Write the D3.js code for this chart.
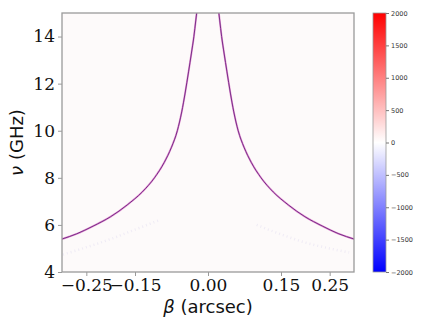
<!DOCTYPE html>
<html>
<head>
<meta charset="utf-8">
<script src="https://cdn.jsdelivr.net/npm/d3@7"></script>
<style>
  body { margin: 0; background: #fff; }
  svg { display: block; }
</style>
</head>
<body>
<svg id="chart" width="436" height="327"></svg>
<script>
'use strict';

// ridge of the map (beta in arcsec, nu in GHz)
const leftBeta = [-0.300, -0.270, -0.236, -0.200, -0.166, -0.135, -0.110, -0.090, -0.075, -0.063, -0.054, -0.047, -0.040, -0.034, -0.029, -0.025, -0.021];
const leftNu   = [5.40, 5.62, 5.95, 6.35, 6.85, 7.40, 8.00, 8.65, 9.30, 10.0, 10.8, 11.6, 12.5, 13.3, 14.0, 14.7, 15.4];
const rightBeta = [0.020, 0.024, 0.028, 0.033, 0.039, 0.046, 0.053, 0.062, 0.074, 0.089, 0.109, 0.134, 0.165, 0.199, 0.235, 0.269, 0.300];
const rightNu   = [15.4, 14.7, 14.0, 13.3, 12.5, 11.6, 10.8, 10.0, 9.30, 8.65, 8.00, 7.40, 6.85, 6.35, 5.95, 5.62, 5.40];

// faint speckle bands below the ridge
const faintLeftBeta = [-0.298, -0.25, -0.20, -0.15, -0.098];
const faintLeftNu   = [4.74, 5.05, 5.40, 5.80, 6.22];
const faintRightBeta = [0.10, 0.15, 0.20, 0.25, 0.29];
const faintRightNu   = [6.00, 5.60, 5.25, 5.00, 4.83];

const xTicks = [-0.25, -0.15, 0.00, 0.15, 0.25];
const yTicks = [4, 6, 8, 10, 12, 14];
const cbTicks = [-2000, -1500, -1000, -500, 0, 500, 1000, 1500, 2000];

const svg = d3.select('#chart');
const plotLeft = 62, plotTop = 13, plotRight = 354, plotBottom = 272;

const x = d3.scaleLinear().domain([-0.3, 0.3]).range([plotLeft, plotRight]);
const y = d3.scaleLinear().domain([4, 15]).range([plotBottom, plotTop]);

const defs = svg.append('defs');
defs.append('clipPath').attr('id', 'plotclip')
    .append('rect')
    .attr('x', plotLeft).attr('y', plotTop)
    .attr('width', plotRight - plotLeft).attr('height', plotBottom - plotTop);

// map background (values near zero -> almost white)
svg.append('rect')
    .attr('x', plotLeft).attr('y', plotTop)
    .attr('width', plotRight - plotLeft).attr('height', plotBottom - plotTop)
    .attr('fill', '#fdfafa');

const plot = svg.append('g').attr('clip-path', 'url(#plotclip)');

const line = d3.line()
    .x(function(d) { return x(d[0]); })
    .y(function(d) { return y(d[1]); })
    .curve(d3.curveMonotoneX);

function drawFaint(bs, ns) {
    const pts = d3.zip(bs, ns);
    plot.append('path')
        .attr('d', line(pts))
        .attr('fill', 'none')
        .attr('stroke', '#cfc9ea')
        .attr('stroke-width', 2.5)
        .attr('stroke-dasharray', '1,3')
        .attr('opacity', 0.3);
}
drawFaint(faintLeftBeta, faintLeftNu);
drawFaint(faintRightBeta, faintRightNu);

function drawRidge(bs, ns) {
    const pts = d3.zip(bs, ns);
    plot.append('path')
        .attr('d', line(pts))
        .attr('fill', 'none')
        .attr('stroke', '#d050b8')
        .attr('stroke-width', 1.9)
        .attr('opacity', 0.6);
    plot.append('path')
        .attr('d', line(pts))
        .attr('fill', 'none')
        .attr('stroke', '#6d2280')
        .attr('stroke-width', 0.9);
}
drawRidge(leftBeta, leftNu);
drawRidge(rightBeta, rightNu);

// axes
const fmtX = function(d) { return d3.format('.2f')(d).replace('-', '\u2212'); };

const xAxis = svg.append('g')
    .attr('transform', 'translate(0,' + plotBottom + ')')
    .call(d3.axisBottom(x).tickValues(xTicks).tickFormat(fmtX).tickSize(4).tickPadding(3));
const yAxis = svg.append('g')
    .attr('transform', 'translate(' + plotLeft + ',0)')
    .call(d3.axisLeft(y).tickValues(yTicks).tickSize(4).tickPadding(3));

[xAxis, yAxis].forEach(function(ax) {
    ax.select('.domain').remove();
    ax.selectAll('line').attr('stroke', '#9a9a9a').attr('stroke-width', 1);
    ax.selectAll('text')
        .attr('fill', '#111')
        .style('font-family', '"DejaVu Serif", serif')
        .style('font-size', '17px');
});

// spines
svg.append('rect')
    .attr('x', plotLeft).attr('y', plotTop)
    .attr('width', plotRight - plotLeft).attr('height', plotBottom - plotTop)
    .attr('fill', 'none')
    .attr('stroke', '#9a9a9a')
    .attr('stroke-width', 1.3);

// axis labels
const xl = svg.append('text')
    .attr('x', (plotLeft + plotRight) / 2)
    .attr('y', 313)
    .attr('text-anchor', 'middle')
    .style('font-family', '"DejaVu Sans", sans-serif')
    .style('font-size', '18px')
    .attr('fill', '#111');
xl.append('tspan').style('font-style', 'italic').text('\u03b2');
xl.append('tspan').text(' (arcsec)');

const yl = svg.append('text')
    .attr('transform', 'translate(23,' + ((plotTop + plotBottom) / 2) + ') rotate(-90)')
    .attr('text-anchor', 'middle')
    .style('font-family', '"DejaVu Sans", sans-serif')
    .style('font-size', '18px')
    .attr('fill', '#111');
yl.append('tspan').style('font-style', 'italic').text('\u03bd');
yl.append('tspan').text(' (GHz)');

// colorbar (bwr)
const cbLeft = 373, cbRight = 386;
const cbY = d3.scaleLinear().domain([-2000, 2000]).range([plotBottom, plotTop]);
const bwr = d3.scaleLinear().domain([-2000, 0, 2000]).range(['#0000ff', '#ffffff', '#ff0000']);

const grad = defs.append('linearGradient')
    .attr('id', 'cbgrad')
    .attr('x1', 0).attr('y1', 1).attr('x2', 0).attr('y2', 0);
d3.range(0, 1.0001, 0.05).forEach(function(t) {
    grad.append('stop')
        .attr('offset', t)
        .attr('stop-color', bwr(-2000 + 4000 * t));
});

svg.append('rect')
    .attr('x', cbLeft).attr('y', cbY(2000))
    .attr('width', cbRight - cbLeft).attr('height', cbY(-2000) - cbY(2000))
    .attr('fill', 'url(#cbgrad)')
    .attr('stroke', '#9a9a9a')
    .attr('stroke-width', 0.8);

const cbAxis = svg.append('g')
    .attr('transform', 'translate(' + cbRight + ',0)')
    .call(d3.axisRight(cbY).tickValues(cbTicks)
        .tickFormat(function(d) { return String(d).replace('-', '\u2212'); })
        .tickSize(3).tickPadding(2));
cbAxis.select('.domain').remove();
cbAxis.selectAll('line').attr('stroke', '#777');
cbAxis.selectAll('text')
    .attr('fill', '#333')
    .style('font-family', '"DejaVu Sans", sans-serif')
    .style('font-size', '6.5px');
</script>
</body>
</html>
